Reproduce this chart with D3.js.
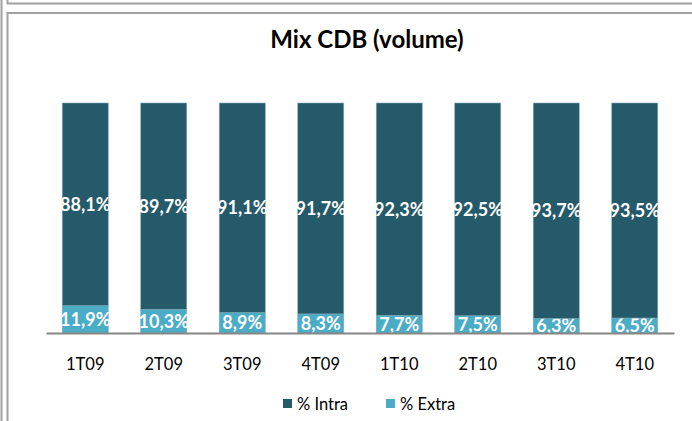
<!DOCTYPE html>
<html>
<head>
<meta charset="utf-8">
<script src="https://cdn.jsdelivr.net/npm/d3@7"></script>
<style>
  body { margin: 0; background: #fff; }
  svg { display: block; font-family: Lato, "Open Sans", sans-serif; }
</style>
</head>
<body>
<script>
const quarters = ["1T09", "2T09", "3T09", "4T09", "1T10", "2T10", "3T10", "4T10"]
const intra = [88.1, 89.7, 91.1, 91.7, 92.3, 92.5, 93.7, 93.5]
const extra = [11.9, 10.3, 8.9, 8.3, 7.7, 7.5, 6.3, 6.5]
const seriesNames = ["% Intra", "% Extra"]

const width = 692
const height = 421
const colours = { intra: "#245a69", extra: "#4bacc6" }

const svg = d3.select("body").append("svg")
    .attr("width", width)
    .attr("height", height)

// frame lines (spreadsheet border look)
const frame = svg.append("g").attr("stroke", "#a0a0a0").attr("fill", "none")
frame.append("line").attr("x1", 1.5).attr("x2", 1.5).attr("y1", 0).attr("y2", height).attr("stroke-width", 2)
frame.append("line").attr("x1", 7.5).attr("x2", 7.5).attr("y1", 0).attr("y2", 4).attr("stroke-width", 2)
frame.append("line").attr("x1", 7).attr("x2", width).attr("y1", 3.5).attr("y2", 3.5).attr("stroke-width", 2)
frame.append("line").attr("x1", 7).attr("x2", width).attr("y1", 13).attr("y2", 13).attr("stroke-width", 2)
frame.append("line").attr("x1", 7.5).attr("x2", 7.5).attr("y1", 12).attr("y2", height).attr("stroke-width", 2)

// title
svg.append("text")
    .attr("x", 367)
    .attr("y", 48)
    .attr("text-anchor", "middle")
    .attr("font-size", 24)
    .attr("font-weight", "bold")
    .text("Mix CDB (volume)")

const xScale = d3.scaleBand()
    .domain(quarters)
    .range([46, 674])
    .paddingInner(0.414)
    .paddingOuter(0.207)

const yScale = d3.scaleLinear()
    .domain([0, 100])
    .range([333, 103])

const rows = quarters.map((q, i) => ({ q: q, intra: intra[i], extra: extra[i] }))

const stack = d3.stack().keys(["extra", "intra"])(rows)

const layers = svg.append("g").selectAll("g")
    .data(stack)
    .enter()
    .append("g")
    .attr("fill", d => colours[d.key])

layers.selectAll("rect")
    .data(d => d)
    .enter()
    .append("rect")
    .attr("x", d => xScale(d.data.q))
    .attr("y", d => yScale(d[1]))
    .attr("width", xScale.bandwidth())
    .attr("height", d => yScale(d[0]) - yScale(d[1]))
    .attr("stroke", "#7fa9b6")
    .attr("stroke-width", 0.6)

// value labels
layers.selectAll("text")
    .data(d => d.map(v => ({ v: v, key: d.key })))
    .enter()
    .append("text")
    .attr("x", d => xScale(d.v.data.q) + xScale.bandwidth() / 2)
    .attr("y", d => (yScale(d.v[0]) + yScale(d.v[1])) / 2)
    .attr("dy", "0.36em")
    .attr("text-anchor", "middle")
    .attr("fill", "#fff")
    .attr("font-size", 18)
    .attr("font-weight", "bold")
    .text(d => d3.format(".1f")(d.v.data[d.key]).replace(".", ",") + "%")

// x-axis
const xAxis = svg.append("g")
    .attr("transform", "translate(0,333)")
    .call(d3.axisBottom(xScale).tickSize(0).tickPadding(25))
xAxis.select(".domain").attr("stroke", "#868686").attr("stroke-width", 2)
xAxis.selectAll("text").attr("font-size", 16.5).attr("fill", "#000").attr("font-family", "Lato, sans-serif")

// legend
const legendX = [283, 386]
const legend = svg.append("g").selectAll("g")
    .data(seriesNames)
    .enter()
    .append("g")
    .attr("transform", (d, i) => `translate(${legendX[i]},399)`)
legend.append("rect")
    .attr("width", 9)
    .attr("height", 9)
    .attr("fill", (d, i) => i == 0 ? colours.intra : colours.extra)
legend.append("text")
    .attr("x", 14)
    .attr("y", 5)
    .attr("dy", "0.36em")
    .attr("font-size", 16.5)
    .text(d => d)
</script>
</body>
</html>
